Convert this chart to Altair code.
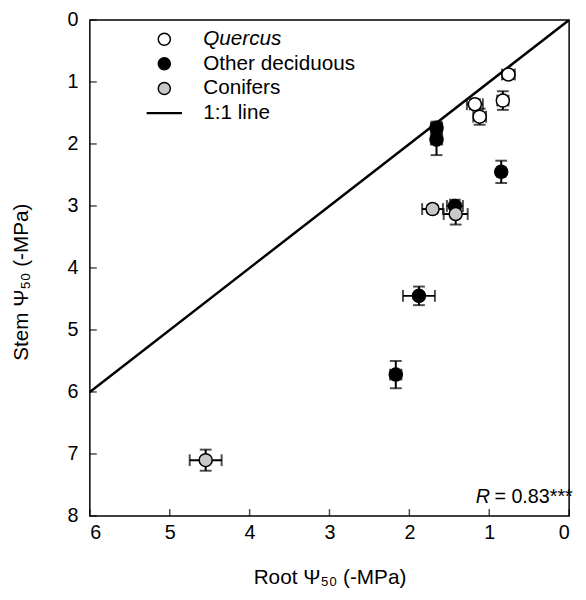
import altair as alt
import pandas as pd

groups = ["Quercus", "Quercus", "Quercus", "Quercus",
          "Other deciduous", "Other deciduous", "Other deciduous", "Other deciduous",
          "Other deciduous", "Other deciduous",
          "Conifers", "Conifers", "Conifers"]
root = [0.76, 0.83, 1.18, 1.12, 1.66, 1.66, 0.85, 1.43, 1.88, 2.17, 1.71, 1.42, 4.55]
stem = [0.88, 1.30, 1.36, 1.56, 1.74, 1.93, 2.45, 3.00, 4.45, 5.72, 3.05, 3.13, 7.10]
root_err = [0.08, 0.07, 0.10, 0.08, 0.07, 0.07, 0.05, 0.10, 0.20, 0.07, 0.13, 0.15, 0.20]
stem_err = [0.07, 0.15, 0.08, 0.13, 0.10, 0.25, 0.18, 0.10, 0.15, 0.22, 0.07, 0.17, 0.17]

legend_order = ["Quercus", "Other deciduous", "Conifers", "1:1 line"]
fill_colors = ["white", "black", "#c8c8c8", "black"]
stroke_colors = ["black", "black", "black", "black"]
line_path = "M -2.8 -0.08 L 2.8 -0.08 L 2.8 0.08 L -2.8 0.08 Z"
shapes = ["circle", "circle", "circle", line_path]

line_x = [0, 6]
line_y = [0, 6]
x_ticks = [0, 1, 2, 3, 4, 5, 6]
y_ticks = [0, 1, 2, 3, 4, 5, 6, 7, 8]

x_title = "Root Ψ₅₀ (-MPa)"
y_title = "Stem Ψ₅₀ (-MPa)"
r_text_pos = [1.17, 7.7]
r_value = "= 0.83***"

FONT = "Liberation Sans"
FS = 20
FS_BIG = 21

W, H = 486, 503

df = pd.DataFrame({"group": groups, "root": root, "stem": stem,
                   "rerr": root_err, "serr": stem_err})
df["xlo"] = df["root"] - df["rerr"]
df["xhi"] = df["root"] + df["rerr"]
df["ylo"] = df["stem"] - df["serr"]
df["yhi"] = df["stem"] + df["serr"]

xs = alt.Scale(domain=[0, 6], reverse=True, nice=False, zero=False)
ys = alt.Scale(domain=[0, 8], reverse=True, nice=False, zero=False)

xax = alt.Axis(values=x_ticks, format="d", labelPadding=7, titlePadding=24)
yax = alt.Axis(values=y_ticks, format="d", labelPadding=12, titlePadding=36,
               titleY=H / 2 + 14)


def X(field):
    return alt.X(field, scale=xs, axis=xax, title=x_title)


def Y(field):
    return alt.Y(field, scale=ys, axis=yax, title=y_title)


base = alt.Chart(df)

line = alt.Chart(pd.DataFrame({"x": line_x, "y": line_y})).mark_line(
    color="black", strokeWidth=2.5, clip=True
).encode(x=X("x:Q"), y=Y("y:Q"))

vbar = base.mark_errorbar(ticks=True, size=12, thickness=2, color="black").encode(
    x=X("root:Q"), y=Y("ylo:Q"), y2="yhi:Q")
hbar = base.mark_errorbar(ticks=True, size=12, thickness=2, color="black").encode(
    y=Y("stem:Q"), x=X("xlo:Q"), x2="xhi:Q")

leg = alt.Legend(
    title=None, orient="none", legendX=65, legendY=9, padding=0,
    labelFont=FONT, labelFontSize=FS_BIG, labelColor="black",
    labelFontStyle=alt.ExprRef("datum.label == 'Quercus' ? 'italic' : 'normal'"),
    symbolSize=150, symbolStrokeWidth=1.5,
    rowPadding=3, labelOffset=29, symbolOpacity=1,
)

pts = base.mark_point(filled=True, size=175, strokeWidth=1.5, opacity=1).encode(
    x=X("root:Q"),
    y=Y("stem:Q"),
    fill=alt.Fill("group:N", scale=alt.Scale(domain=legend_order, range=fill_colors),
                  legend=leg),
    shape=alt.Shape("group:N", scale=alt.Scale(domain=legend_order, range=shapes),
                    legend=leg),
    stroke=alt.Stroke("group:N", scale=alt.Scale(domain=legend_order, range=stroke_colors),
                      legend=leg),
)

ytick_df = pd.DataFrame({"v": y_ticks})
xtick_df = pd.DataFrame({"v": x_ticks})
yt = alt.Chart(ytick_df).mark_tick(orient="horizontal", size=7, thickness=1.5,
                                   color="black").encode(
    y=Y("v:Q"), x=alt.value(3.5))
xt = alt.Chart(xtick_df).mark_tick(orient="vertical", size=7, thickness=1.5,
                                   color="black").encode(
    x=X("v:Q"), y=alt.value(H - 3.5))

rdf = pd.DataFrame({"x": [r_text_pos[0]], "y": [r_text_pos[1]]})
r_lab = alt.Chart(rdf).mark_text(text="R", font=FONT, fontSize=FS, fontStyle="italic",
                                 align="left", baseline="middle", color="black").encode(
    x=X("x:Q"), y=Y("y:Q"))
r_val = alt.Chart(rdf).mark_text(text=r_value, font=FONT, fontSize=FS, align="left",
                                 baseline="middle", dx=19, color="black").encode(
    x=X("x:Q"), y=Y("y:Q"))

chart = alt.layer(line, vbar, hbar, pts, yt, xt, r_lab, r_val).properties(
    width=W, height=H,
    autosize=alt.AutoSizeParams(type="none"),
    padding={"left": 83, "top": 8, "right": 9, "bottom": 75},
).configure_view(
    stroke="black", strokeWidth=1.5
).configure_axis(
    domain=False, ticks=False, grid=False,
    labelFont=FONT, labelFontSize=FS, labelColor="black",
    titleFont=FONT, titleFontSize=FS_BIG, titleColor="black", titleFontWeight="normal",
)

chart.save("out.html", embed_options={"renderer": "svg", "actions": False})
